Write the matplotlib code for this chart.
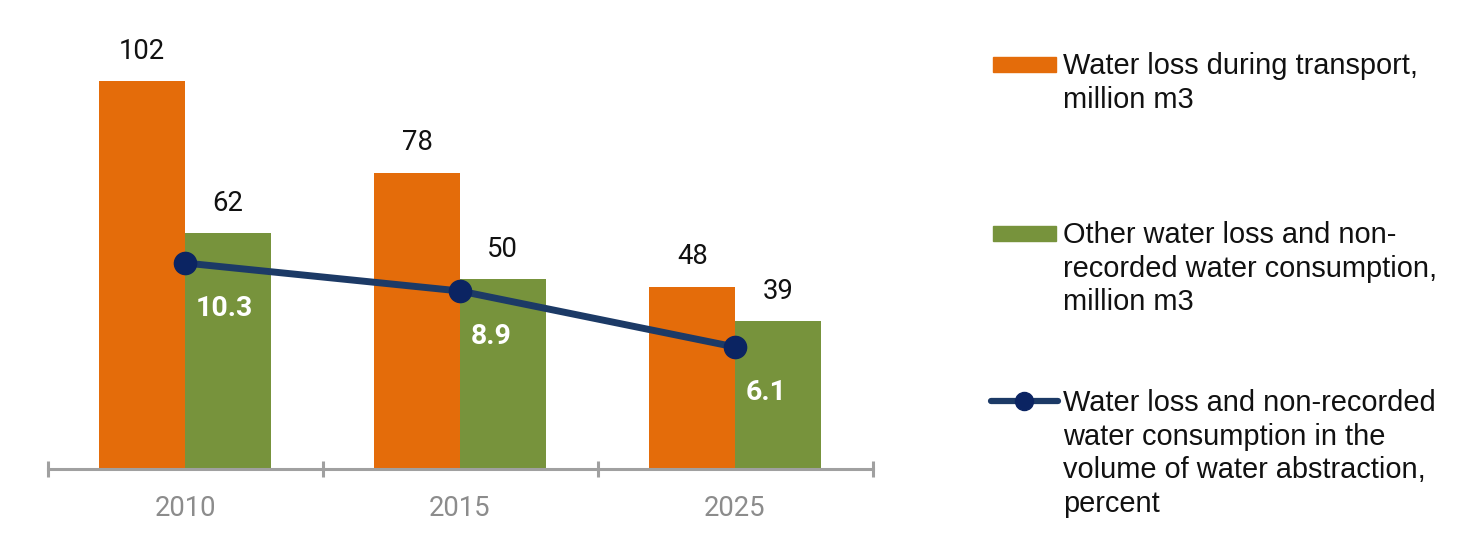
import matplotlib.pyplot as plt
from matplotlib.patches import Rectangle
from matplotlib.lines import Line2D
import numpy as np

# data
years = ['2010', '2015', '2025']
loss_transport = [102, 78, 48]          # million m3
loss_other = [62, 50, 39]               # million m3
loss_share = [10.3, 8.9, 6.1]           # percent

legend_labels = [
    ['Water loss during transport,', 'million m3'],
    ['Other water loss and non-', 'recorded water consumption,', 'million m3'],
    ['Water loss and non-recorded', 'water consumption in the',
     'volume of water abstraction,', 'percent'],
]

orange = '#E46C0A'
green = '#77933C'
navy_line = '#1C3A66'
navy_dot = '#0B2462'
axis_gray = '#A0A0A0'
tick_gray = '#8C8C8C'

W, H = 1469, 551
fig = plt.figure(figsize=(W / 100, H / 100), dpi=100)
ax = fig.add_axes([47.5 / W, 82 / H, 825 / W, 439 / H])

x = np.arange(len(years))
bw = 0.311
ax.bar(x - bw / 2, loss_transport, bw, color=orange, zorder=2)
ax.bar(x + bw / 2, loss_other, bw, color=green, zorder=2)
ax.set_xlim(-0.5, len(years) - 0.5)
ax.set_ylim(0, 115.5)

for xi, v in zip(x - bw / 2, loss_transport):
    ax.annotate(str(v), (xi, v), xytext=(0, 16), textcoords='offset points',
                ha='center', va='baseline', fontsize=19.8, family='Roboto', color='#111111')
for xi, v in zip(x + bw / 2, loss_other):
    ax.annotate(str(v), (xi, v), xytext=(0, 16), textcoords='offset points',
                ha='center', va='baseline', fontsize=19.8, family='Roboto', color='#111111')

for s in ['top', 'right', 'left']:
    ax.spines[s].set_visible(False)
ax.spines['bottom'].set_color(axis_gray)
ax.spines['bottom'].set_linewidth(2.2)
ax.set_yticks([])
ax.set_xticks(x)
ax.set_xticklabels(years, family='Roboto', fontsize=19.8, color=tick_gray)
ax.tick_params(axis='x', which='major', length=0, pad=19)
ax.set_xticks(np.arange(-0.5, len(years)), minor=True)
ax.tick_params(axis='x', which='minor', direction='inout', length=12,
               width=2.2, color=axis_gray)

# percent line on a second scale
ax2 = ax.twinx()
ax2.set_ylim(0, 21.95)
ax2.plot(x, loss_share, color=navy_line, lw=5, marker='o', ms=16,
         markerfacecolor=navy_dot, markeredgecolor=navy_dot, zorder=3)
for xi, v in zip(x, loss_share):
    ax2.annotate(f'{v}', (xi, v), xytext=(8, -38), textcoords='offset points',
                 ha='left', va='baseline', fontsize=20.5, family='Roboto',
                 fontweight='bold', color='white')
ax2.axis('off')

# legend drawn by hand to follow the original layout
def fx(px):
    return px / W

def fy(py):
    return 1 - py / H

fig.add_artist(Rectangle((fx(993), fy(72)), 63 / W, 15 / H, color=orange,
                         transform=fig.transFigure))
fig.add_artist(Rectangle((fx(993), fy(241)), 63 / W, 15 / H, color=green,
                         transform=fig.transFigure))
fig.add_artist(Line2D([fx(991), fx(1058)], [fy(401), fy(401)], lw=4.5,
                      color=navy_line, solid_capstyle='round', transform=fig.transFigure))
fig.add_artist(Line2D([fx(1024)], [fy(401)], marker='o', ms=13, color=navy_dot,
                      transform=fig.transFigure))

line_step = 33.7
for lines, py in zip(legend_labels, [74, 243, 411]):
    for i, line in enumerate(lines):
        fig.text(fx(1063), fy(py + i * line_step), line, ha='left', va='baseline',
                 fontsize=20.9, family='Liberation Sans', color='#111111')

fig.savefig('out.png', dpi=100)
